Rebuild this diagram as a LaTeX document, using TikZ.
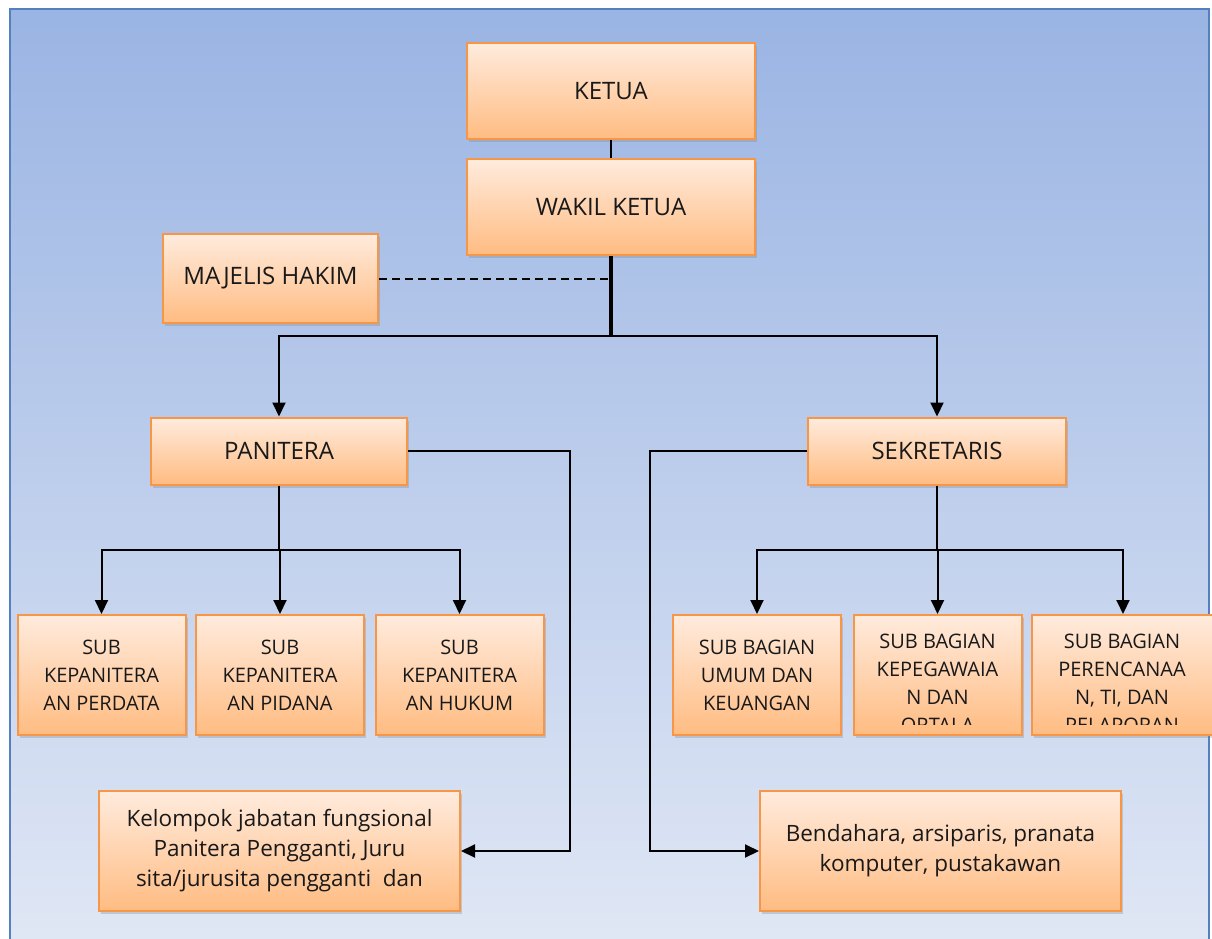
\documentclass[tikz,border=0pt]{standalone}
\usepackage{fontspec}
\setmainfont{Open Sans}
\usetikzlibrary{arrows.meta,positioning,shadows}
\definecolor{bgtop}{HTML}{9AB4E3}
\definecolor{bgbot}{HTML}{E1E8F5}
\definecolor{bgedge}{HTML}{5480C2}
\definecolor{boxtop}{HTML}{FFEBDD}
\definecolor{boxbot}{HTML}{FFBC82}
\definecolor{boxedge}{HTML}{F79646}
\tikzset{
        block/.style = {draw=boxedge, line width=2pt, rectangle,
            top color=boxtop, bottom color=boxbot,
            drop shadow={shadow xshift=2pt, shadow yshift=-3pt, opacity=0.3},
            align=center, text=black!90,
            font=\fontsize{24}{30}\selectfont},
        subblock/.style = {block, minimum width=168pt, minimum height=120pt,
            font=\fontsize{20}{28}\selectfont},
        subtext/.style = {inner sep=0pt, align=center, text=black!90,
            font=\fontsize{20}{28}\selectfont},
        wideblock/.style = {block, minimum width=361pt, minimum height=120pt,
            font=\fontsize{22.5}{30}\selectfont},
        link/.style = {draw, line width=2pt},
        trunk/.style = {draw, line width=3.2pt},
        dashline/.style = {draw, line width=2pt, dash pattern=on 8pt off 5pt},
        arrow/.style = {link, -{Triangle[length=14pt,width=13pt]}},
    }

\begin{document}
\begin{tikzpicture}[x=1pt,y=-1pt]
    \useasboundingbox (0,0) rectangle (1212,939);
    % background panel
    \shade[top color=bgtop, bottom color=bgbot] (10,9) rectangle (1209,960);
    \draw[bgedge, line width=2.5pt] (10,9) rectangle (1209,960);

    % top of the chart
    \node[block, minimum width=288pt, minimum height=96pt] (ketua) at (611,91) {KETUA};
    \node[block, minimum width=288pt, minimum height=96pt] (wakil) at (611,207) {WAKIL KETUA};
    \node[block, minimum width=215pt, minimum height=89pt] (majelis) at (270.5,278.5) {MAJELIS HAKIM};

    % second level
    \node[block, minimum width=256pt, minimum height=67pt] (panitera) at (279,451) {PANITERA};
    \node[block, minimum width=258pt, minimum height=67pt] (sekretaris) at (937,451) {SEKRETARIS};

    % sub units of panitera
    \node[subblock] (psub1) at (101.5,675) {SUB\\KEPANITERA\\AN PERDATA};
    \node[subblock] (psub2) at (280,675) {SUB\\KEPANITERA\\AN PIDANA};
    \node[subblock] (psub3) at (459.5,675) {SUB\\KEPANITERA\\AN HUKUM};

    % sub units of sekretaris
    \node[subblock] (ssub1) at (757,675) {SUB BAGIAN\\UMUM DAN\\KEUANGAN};
    \node[subblock] (ssub2) at (937.5,675) {};
    \node[subblock, minimum width=184pt] (ssub3) at (1124,675) {};
    \begin{scope}
        \clip (ssub2.north west) rectangle ([yshift=12pt]ssub2.south east);
        \node[subtext, anchor=north] (ssub2text) at ([yshift=-20pt]ssub2.north)
            {SUB BAGIAN\\KEPEGAWAIA\\N DAN\\ORTALA};
    \end{scope}
    \begin{scope}
        \clip (ssub3.north west) rectangle ([yshift=12pt]ssub3.south east);
        \node[subtext, anchor=north] (ssub3text) at ([xshift=-2pt,yshift=-20pt]ssub3.north)
            {SUB BAGIAN\\PERENCANAA\\N, TI, DAN\\PELAPORAN};
    \end{scope}

    % functional groups
    \node[wideblock] (kelompok) at (279.5,851) {Kelompok jabatan fungsional\\Panitera Pengganti, Juru\\sita/jurusita pengganti\ \ dan};
    \node[wideblock] (bendahara) at (940.5,851) {Bendahara, arsiparis, pranata\\komputer, pustakawan};

    % connectors
    \coordinate (split) at (611,336);
    \coordinate (pbus) at (279,550);
    \coordinate (sbus) at (937,550);

    \draw[link] (ketua) -- (wakil);
    \draw[trunk] (wakil.south) -- (split);
    \draw[dashline] (majelis.east) -- (majelis.east -| split);
    \draw[arrow] (split) -| (panitera.north);
    \draw[arrow] (split) -| (sekretaris.north);

    \draw[link] (panitera.south) -- (pbus);
    \foreach \s in {psub1,psub2,psub3}
        \draw[arrow] (pbus) -| (\s.north);
    \draw[link] (sekretaris.south) -- (sbus);
    \foreach \s in {ssub1,ssub2}
        \draw[arrow] (sbus) -| (\s.north);
    \draw[arrow] (sbus) -| ([xshift=-1pt]ssub3.north);

    \draw[arrow] (panitera.east) -- ++(162,0) |- (kelompok.east);
    \draw[arrow] (sekretaris.west) -- ++(-157,0) |- (bendahara.west);
\end{tikzpicture}
\end{document}
